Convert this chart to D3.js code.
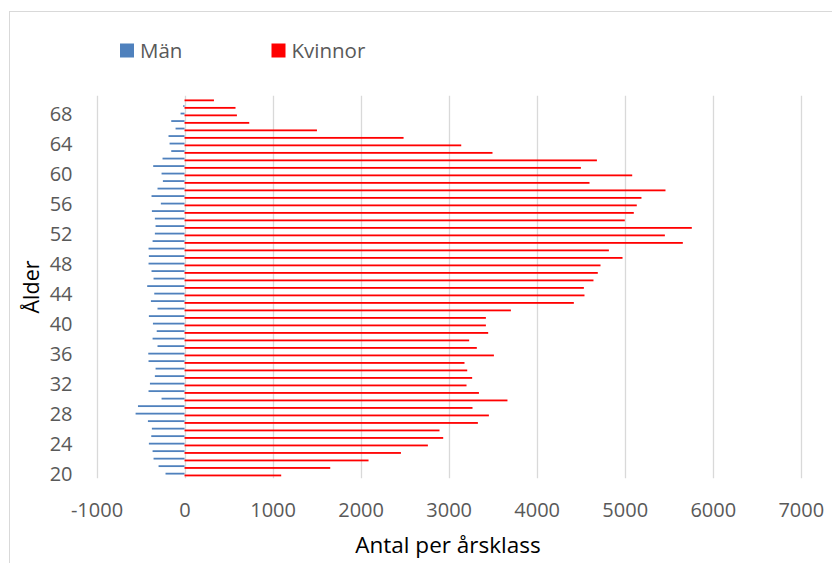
<!DOCTYPE html>
<html>
<head>
<meta charset="utf-8">
<script src="https://cdn.jsdelivr.net/npm/d3@7"></script>
<style>
  body { margin: 0; background: #fff; }
  text { font-family: "Open Sans", sans-serif; }
</style>
</head>
<body>
<div id="chart"></div>
<script>
// ages (categories), bottom to top
const ages = [20, 21, 22, 23, 24, 25, 26, 27, 28, 29, 30, 31, 32, 33, 34, 35, 36, 37, 38, 39,
  40, 41, 42, 43, 44, 45, 46, 47, 48, 49, 50, 51, 52, 53, 54, 55, 56, 57, 58, 59,
  60, 61, 62, 63, 64, 65, 66, 67, 68, 69, 70];

// men, plotted as negative numbers
const men = [-216, -295, -352, -363, -405, -378, -371, -416, -556, -529, -261, -409, -393, -337, -329, -409, -412, -307, -363, -316,
  -359, -405, -307, -382, -344, -424, -352, -375, -409, -405, -409, -363, -337, -329, -337, -371, -269, -375, -307, -246,
  -261, -356, -250, -151, -170, -182, -102, -151, -45, -15, 0];

// women
const women = [1098, 1655, 2090, 2458, 2764, 2938, 2896, 3332, 3457, 3271, 3668, 3344, 3203, 3267, 3211, 3180, 3514, 3320, 3233, 3449,
  3423, 3423, 3707, 4422, 4543, 4536, 4645, 4694, 4725, 4975, 4820, 5660, 5456, 5762, 5001, 5103, 5137, 5190, 5463, 4600,
  5085, 4502, 4684, 3498, 3143, 2488, 1504, 735, 595, 579, 334];

const seriesNames = ["Män", "Kvinnor"];
const xTicks = [-1000, 0, 1000, 2000, 3000, 4000, 5000, 6000, 7000];

let width = 832,
  height = 563;

let colors = { "Män": "#4f81bd", "Kvinnor": "#ff0000" };

let svg = d3
  .select("#chart")
  .append("svg")
  .attr("width", width)
  .attr("height", height);

// chart area border
svg
  .append("rect")
  .attr("x", 9.5)
  .attr("y", 11.5)
  .attr("width", 840)
  .attr("height", 570)
  .attr("fill", "none")
  .attr("stroke", "#d9d9d9")
  .attr("stroke-width", 1);

let plot = { left: 96.5, right: 800.8, top: 95.7, bottom: 478.3 };

let x = d3.scaleLinear().domain([-1000, 7000]).range([plot.left, plot.right]);

let y = d3
  .scaleBand()
  .domain(ages.slice().reverse()) // oldest at top
  .range([plot.top, plot.bottom])
  .paddingInner(0.52)
  .paddingOuter(0.26);

let ySub = d3.scaleBand().domain(seriesNames).range([0, y.bandwidth()]);

// gridlines
svg
  .append("g")
  .selectAll("line")
  .data(xTicks)
  .join("line")
  .attr("x1", (d) => Math.round(x(d)) + 0.5)
  .attr("x2", (d) => Math.round(x(d)) + 0.5)
  .attr("y1", plot.top)
  .attr("y2", plot.bottom)
  .attr("stroke", "#d9d9d9")
  .attr("stroke-width", 1.3);

// x tick labels (plain hyphen for negatives, like the original)
let xAxis = svg
  .append("g")
  .attr("transform", `translate(0,${plot.bottom})`)
  .call(
    d3
      .axisBottom(x)
      .tickValues(xTicks)
      .tickSize(0)
      .tickPadding(0)
      .tickFormat((d) => String(d))
  );
xAxis.select(".domain").remove();
xAxis
  .selectAll("text")
  .attr("y", 39)
  .attr("dy", null)
  .attr("fill", "#595959")
  .style("font-size", "20px");

// y tick labels
let yAxis = svg
  .append("g")
  .attr("transform", `translate(${plot.left},0)`)
  .call(
    d3
      .axisLeft(y)
      .tickValues(ages.filter((a) => (a - 20) % 4 == 0))
      .tickSize(0)
      .tickPadding(24)
  );
yAxis.select(".domain").remove();
yAxis
  .selectAll("text")
  .attr("fill", "#595959")
  .style("font-size", "20px");

// bars
let rows = ages.map((a, i) => ({ age: a, "Män": men[i], "Kvinnor": women[i] }));

seriesNames.forEach((s) => {
  svg
    .append("g")
    .selectAll("rect")
    .data(rows)
    .join("rect")
    .attr("x", (d) => x(Math.min(0, d[s])))
    .attr("width", (d) => Math.abs(x(d[s]) - x(0)))
    .attr("y", (d) => y(d.age) + ySub(s))
    .attr("height", ySub.bandwidth())
    .attr("fill", colors[s]);
});

// legend
let legendPos = [120, 271.5];
let legend = svg
  .append("g")
  .selectAll("g")
  .data(seriesNames)
  .join("g")
  .attr("transform", (d, i) => `translate(${legendPos[i]},43.5)`);
legend
  .append("rect")
  .attr("width", 14)
  .attr("height", 14)
  .attr("fill", (d) => colors[d]);
legend
  .append("text")
  .attr("x", 20)
  .attr("y", 14)
  .attr("fill", "#595959")
  .style("font-size", "20.5px")
  .text((d) => d);

// axis titles
svg
  .append("text")
  .attr("x", 448)
  .attr("y", 553)
  .attr("text-anchor", "middle")
  .attr("fill", "#000")
  .style("font-size", "22.5px")
  .text("Antal per årsklass");

svg
  .append("text")
  .attr("transform", "translate(39,287) rotate(-90)")
  .attr("text-anchor", "middle")
  .attr("fill", "#000")
  .style("font-size", "21.5px")
  .text("Ålder");
</script>
</body>
</html>
